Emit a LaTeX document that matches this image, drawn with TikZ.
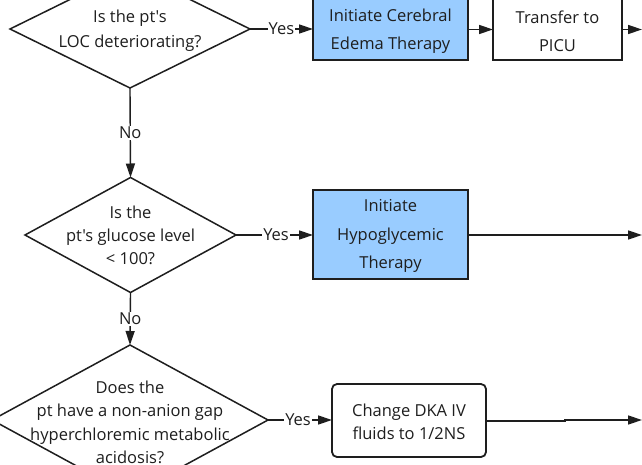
\documentclass[tikz,border=0pt]{standalone}
\usepackage{fontspec}
\newfontfamily\osans{Open Sans}
\usetikzlibrary{shapes.geometric,arrows.meta}
\definecolor{boxblue}{HTML}{99CCFF}
\definecolor{ink}{HTML}{1E1E1E}
\tikzset{
  txt/.style={font=\osans\fontsize{16.5}{23}\selectfont, text=ink, align=center, inner sep=0pt},
  decision/.style={diamond, draw=ink, line width=1.5pt, inner sep=0pt, outer sep=0pt, fill=white},
  actbox/.style={draw=ink, line width=1.8pt, rectangle, inner sep=0pt, outer sep=0pt},
  bluebox/.style={actbox, fill=boxblue},
  conn/.style={draw=ink, line width=1.4pt, -{Triangle[length=14pt,width=9pt]}},
  lbl/.style={font=\osans\fontsize{16.5}{20}\selectfont, text=ink, fill=white, inner sep=1pt},
}
\begin{document}
\begin{tikzpicture}[x=1pt,y=-1pt]
\useasboundingbox (0,0) rectangle (642,465);
\clip (0,0) rectangle (642,465);
\fill[white] (0,0) rectangle (642,465);
% decisions
\node[decision, minimum width=240pt, minimum height=118pt] (d1) at (130,29) {};
\node[txt, font=\osans\fontsize{16.5}{25}\selectfont] (t1) at (130,31) {Is the pt's\\LOC deteriorating?};
\node[decision, minimum width=211pt, minimum height=115pt] (d2) at (130.5,235) {};
\node[txt] (t2) at (130.5,235) {Is the\\pt's glucose level\\< 100?};
\node[decision, minimum width=276pt, minimum height=150pt] (d3) at (130,420) {};
\node[txt, font=\osans\fontsize{16.5}{23.5}\selectfont] (t3) at (130,422.5) {Does the\\pt have a non-anion gap\\hyperchloremic metabolic\\acidosis?};
% boxes
\node[bluebox, minimum width=155pt, minimum height=61pt] (b1) at (390.5,29.5) {};
\node[txt, font=\osans\fontsize{16.5}{28}\selectfont] (bt1) at (390.5,31) {Initiate Cerebral\\Edema Therapy};
\node[actbox, fill=white, minimum width=129pt, minimum height=61pt] (b2) at (557.5,29.5) {};
\node[txt, font=\osans\fontsize{16.5}{28}\selectfont] (bt2) at (557.5,31) {Transfer to\\PICU};
\node[bluebox, minimum width=155pt, minimum height=89pt] (b3) at (390.5,234.5) {};
\node[txt, font=\osans\fontsize{16.5}{28.5}\selectfont] (bt3) at (390.5,236) {Initiate\\Hypoglycemic\\Therapy};
\node[actbox, fill=white, rounded corners=5pt, minimum width=154pt, minimum height=73pt] (b4) at (409,420.5) {};
\node[txt] (bt4) at (409,422) {Change DKA IV\\fluids to 1/2NS};
% free ends
\coordinate (e1) at (642,29.5);
\coordinate (e2) at (642,235);
\coordinate (e3) at (642,420);
\coordinate (j3) at (565,421);
% connectors
\draw[conn] (d1.east) -- node[lbl] {Yes} (b1.west |- d1.east);
\draw[conn] (b1.east) -- (b2.west);
\draw[conn] (b2.east) -- (e1);
\draw[conn] (d1.south) -- node[lbl, pos=0.5] {No} (d2.north);
\draw[conn] (d2.east) -- node[lbl, pos=0.52] {Yes} (b3.west |- d2.east);
\draw[conn] (b3.east |- d2.east) -- (e2);
\draw[conn] (d2.south) -- node[lbl, pos=0.5] {No} (d3.north);
\draw[conn] (d3.east) -- node[lbl, pos=0.47] {Yes} (b4.west |- d3.east);
\draw[conn] (b4.east |- j3) -- (j3) -- (j3 |- e3) -- (e3);
\end{tikzpicture}
\end{document}
